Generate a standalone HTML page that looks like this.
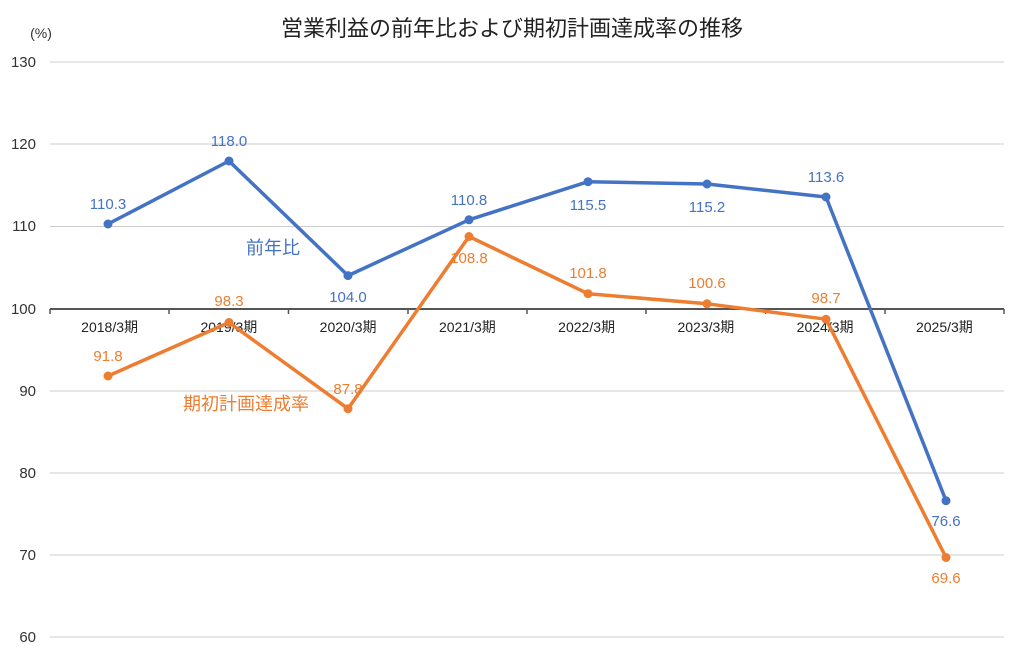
<!DOCTYPE html><html><head><meta charset="utf-8"><style>body{margin:0;background:#fff}svg{display:block}text{font-family:"Liberation Sans","Noto Sans CJK JP",sans-serif}</style></head><body>
<svg width="1024" height="654" viewBox="0 0 1024 654">
<text x="512" y="36" font-size="22" text-anchor="middle" fill="#222">営業利益の前年比および期初計画達成率の推移</text>
<text x="41" y="38" font-size="14" text-anchor="middle" fill="#333">(%)</text>
<g stroke="#ccc" stroke-width="1">
<line x1="50" y1="62" x2="1004" y2="62"/><line x1="50" y1="144" x2="1004" y2="144"/><line x1="50" y1="226.5" x2="1004" y2="226.5"/><line x1="50" y1="391" x2="1004" y2="391"/><line x1="50" y1="473" x2="1004" y2="473"/><line x1="50" y1="555" x2="1004" y2="555"/><line x1="50" y1="637" x2="1004" y2="637"/></g>
<line x1="50" y1="309" x2="1004" y2="309" stroke="#555" stroke-width="2"/>
<g stroke="#555" stroke-width="1.5"><line x1="50" y1="309" x2="50" y2="314"/><line x1="169" y1="309" x2="169" y2="314"/><line x1="288.5" y1="309" x2="288.5" y2="314"/><line x1="408" y1="309" x2="408" y2="314"/><line x1="527" y1="309" x2="527" y2="314"/><line x1="646" y1="309" x2="646" y2="314"/><line x1="765.5" y1="309" x2="765.5" y2="314"/><line x1="885" y1="309" x2="885" y2="314"/><line x1="1004" y1="309" x2="1004" y2="314"/></g>
<g font-size="15" fill="#333" text-anchor="end"><text x="36" y="67">130</text><text x="36" y="149">120</text><text x="36" y="231">110</text><text x="36" y="314">100</text><text x="36" y="396">90</text><text x="36" y="478">80</text><text x="36" y="560">70</text><text x="36" y="642">60</text></g>
<g font-size="14" fill="#222" text-anchor="middle"><text x="109.6" y="332">2018/3期</text><text x="228.9" y="332">2019/3期</text><text x="348.1" y="332">2020/3期</text><text x="467.4" y="332">2021/3期</text><text x="586.6" y="332">2022/3期</text><text x="705.9" y="332">2023/3期</text><text x="825.1" y="332">2024/3期</text><text x="944.4" y="332">2025/3期</text></g>
<polyline fill="none" stroke="#4472c4" stroke-width="3.5" stroke-linejoin="round" points="108,224 229,161 348,275.6 469,219.8 588,181.7 707,184 826,197 946,500.7"/>
<polyline fill="none" stroke="#ed7d31" stroke-width="3.5" stroke-linejoin="round" points="108,376 229,322.5 348,408.7 469,236.5 588,293.7 707,303.8 826,319.2 946,557.5"/>
<g fill="#4472c4"><circle cx="108" cy="224" r="4.5"/><circle cx="229" cy="161" r="4.5"/><circle cx="348" cy="275.6" r="4.5"/><circle cx="469" cy="219.8" r="4.5"/><circle cx="588" cy="181.7" r="4.5"/><circle cx="707" cy="184" r="4.5"/><circle cx="826" cy="197" r="4.5"/><circle cx="946" cy="500.7" r="4.5"/></g>
<g fill="#ed7d31"><circle cx="108" cy="376" r="4.5"/><circle cx="229" cy="322.5" r="4.5"/><circle cx="348" cy="408.7" r="4.5"/><circle cx="469" cy="236.5" r="4.5"/><circle cx="588" cy="293.7" r="4.5"/><circle cx="707" cy="303.8" r="4.5"/><circle cx="826" cy="319.2" r="4.5"/><circle cx="946" cy="557.5" r="4.5"/></g>
<g font-size="15" fill="#4472c4" text-anchor="middle"><text x="108" y="209">110.3</text><text x="229" y="146">118.0</text><text x="348" y="302">104.0</text><text x="469" y="205">110.8</text><text x="588" y="210">115.5</text><text x="707" y="212">115.2</text><text x="826" y="182">113.6</text><text x="946" y="526">76.6</text><text x="273" y="254" font-size="18">前年比</text></g>
<g font-size="15" fill="#ed7d31" text-anchor="middle"><text x="108" y="361">91.8</text><text x="229" y="306">98.3</text><text x="348" y="394">87.8</text><text x="469" y="263">108.8</text><text x="588" y="278">101.8</text><text x="707" y="288">100.6</text><text x="826" y="303">98.7</text><text x="946" y="583">69.6</text><text x="246" y="410" font-size="18">期初計画達成率</text></g>
</svg></body></html>
